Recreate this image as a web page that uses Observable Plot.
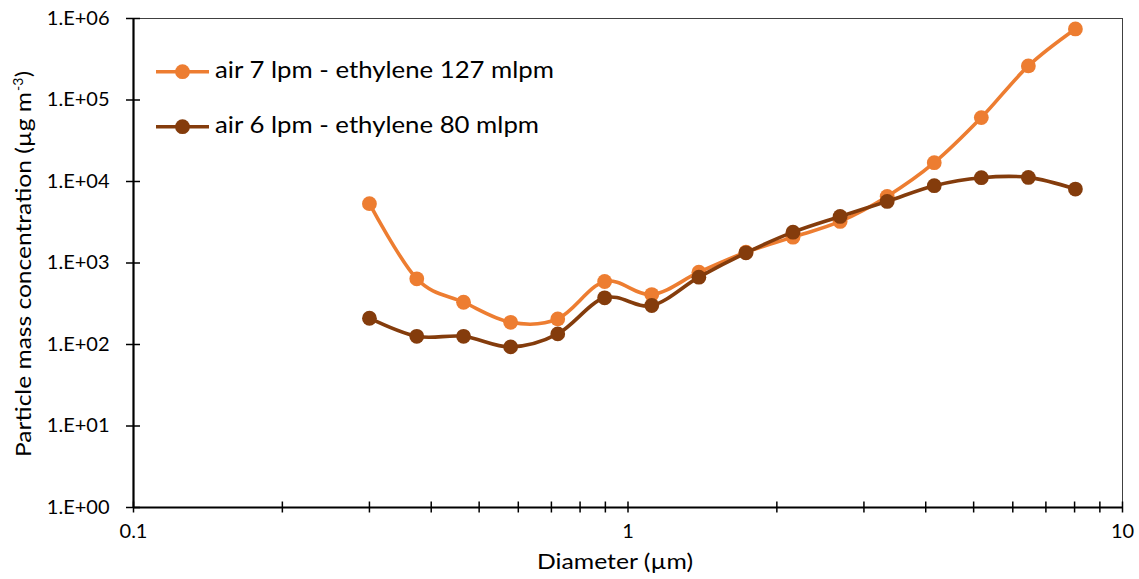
<!DOCTYPE html>
<html>
<head>
<meta charset="utf-8">
<script src="https://cdn.jsdelivr.net/npm/d3@7"></script>
<script src="https://cdn.jsdelivr.net/npm/@observablehq/plot@0.6"></script>
<style>
  html, body { margin: 0; padding: 0; background: #fff; }
  #chart { width: 1139px; height: 579px; }
</style>
</head>
<body>
<div id="chart"></div>
<script>
// Optical particle sizer channel diameters (µm)
const diameters = [0.3, 0.374, 0.465, 0.579, 0.721, 0.897, 1.117, 1.391, 1.732, 2.156, 2.685, 3.343, 4.162, 5.182, 6.451, 8.031];

// Particle mass concentration (µg m-3) for each flame condition
const air7Ethylene127 = [5340, 640, 330, 187, 206, 593, 410, 771, 1358, 2075, 3235, 6560, 17000, 60800, 262000, 745000];
const air6Ethylene80 = [210, 126, 126, 93.5, 135, 374, 301, 670, 1334, 2390, 3725, 5700, 8880, 11130, 11230, 8070];

const seriesNames = ["air 7 lpm - ethylene 127 mlpm", "air 6 lpm - ethylene 80 mlpm"];
const seriesColors = ["#ED7D31", "#843C0C"];

const yTicks = [1, 10, 100, 1000, 10000, 100000, 1000000];
const yTickLabels = ["1.E+00", "1.E+01", "1.E+02", "1.E+03", "1.E+04", "1.E+05", "1.E+06"];
const xTicks = [0.1, 1, 10];
const xTickLabels = ["0.1", "1", "10"];
const xMinorTicks = [0.2, 0.3, 0.4, 0.5, 0.6, 0.7, 0.8, 0.9, 2, 3, 4, 5, 6, 7, 8, 9];

const xTitle = "Diameter (µm)";
const yTitle = "Particle mass concentration (µg m";
const yTitleSup = "-3";
const yTitleEnd = ")";

const FONT = "Lato, 'Open Sans', sans-serif";

const seriesValues = [air7Ethylene127, air6Ethylene80];
const rows = seriesValues.flatMap((vals, s) =>
  diameters.map((d, i) => ({d, v: vals[i], s: seriesNames[s]}))
);

// each series: smoothed line with round markers, later series drawn on top
const seriesMarks = seriesNames.flatMap((name, s) => {
  const data = rows.filter(r => r.s === name);
  return [
    Plot.line(data, {x: "d", y: "v", stroke: seriesColors[s], strokeWidth: 3.6, curve: "cardinal"}),
    Plot.dot(data, {x: "d", y: "v", r: 7.4, fill: seriesColors[s], stroke: "none"})
  ];
});

const chart = Plot.plot({
  width: 1139,
  height: 579,
  marginLeft: 133,
  marginRight: 17,
  marginTop: 18,
  marginBottom: 72,
  style: {fontFamily: FONT, fontSize: "20px", color: "#000", background: "#fff", overflow: "visible"},
  x: {type: "log", domain: [0.1, 10]},
  y: {type: "log", domain: [1, 1e6]},
  marks: [
    Plot.frame({stroke: "#404040", strokeWidth: 1}),
    // crossing tick marks on the value axis
    Plot.axisY({ticks: yTicks, tickSize: 14, dx: 7, fill: "none", stroke: "#000", strokeWidth: 1.5, label: null}),
    Plot.axisY({ticks: yTicks, tickSize: 0, tickPadding: 24, tickFormat: d => yTickLabels[yTicks.indexOf(d)], fill: "#000", fontSize: 20, label: null}),
    // crossing tick marks on the diameter axis (major + minor)
    Plot.axisX({ticks: [...xTicks, ...xMinorTicks], tickSize: 11, dy: -5.5, fill: "none", stroke: "#000", strokeWidth: 1.5, label: null}),
    Plot.axisX({ticks: xTicks, tickSize: 0, tickPadding: 16, tickFormat: d => xTickLabels[xTicks.indexOf(d)], fill: "#000", fontSize: 20, label: null}),
    Plot.ruleX([0.1], {stroke: "#000", strokeWidth: 2.2}),
    Plot.ruleY([1], {stroke: "#000", strokeWidth: 2.2}),
    ...seriesMarks
  ]
});

document.getElementById("chart").appendChild(chart);

const svg = d3.select(chart);

// axis titles
svg.append("text")
  .attr("x", 537).attr("y", 569)
  .attr("text-anchor", "start")
  .attr("font-family", FONT).attr("font-size", 21).attr("fill", "#000")
  .attr("textLength", 156).attr("lengthAdjust", "spacingAndGlyphs")
  .text(xTitle);

const yTitleGroup = svg.append("g")
  .attr("transform", "translate(31,0) rotate(-90)")
  .attr("font-family", FONT).attr("fill", "#000").attr("text-anchor", "start");
yTitleGroup.append("text")
  .attr("x", -457).attr("y", 0)
  .attr("font-size", 22)
  .attr("textLength", 365).attr("lengthAdjust", "spacingAndGlyphs")
  .text(yTitle);
yTitleGroup.append("text")
  .attr("x", -91).attr("y", -8)
  .attr("font-size", 14)
  .text(yTitleSup);
yTitleGroup.append("text")
  .attr("x", -77).attr("y", 0)
  .attr("font-size", 22)
  .text(yTitleEnd);

// legend
const legendTextLength = [339, 324];
const legend = svg.append("g").attr("font-family", FONT).attr("font-size", 23).attr("text-anchor", "start");
seriesNames.forEach((name, s) => {
  const cy = 71.7 + s * 55;
  legend.append("line")
    .attr("x1", 156).attr("x2", 209).attr("y1", cy).attr("y2", cy)
    .attr("stroke", seriesColors[s]).attr("stroke-width", 3.6);
  legend.append("circle")
    .attr("cx", 182.5).attr("cy", cy).attr("r", 7.4)
    .attr("fill", seriesColors[s]);
  legend.append("text")
    .attr("x", 215).attr("y", cy + 6.5)
    .attr("fill", "#000")
    .attr("textLength", legendTextLength[s]).attr("lengthAdjust", "spacingAndGlyphs")
    .text(name);
});
</script>
</body>
</html>
